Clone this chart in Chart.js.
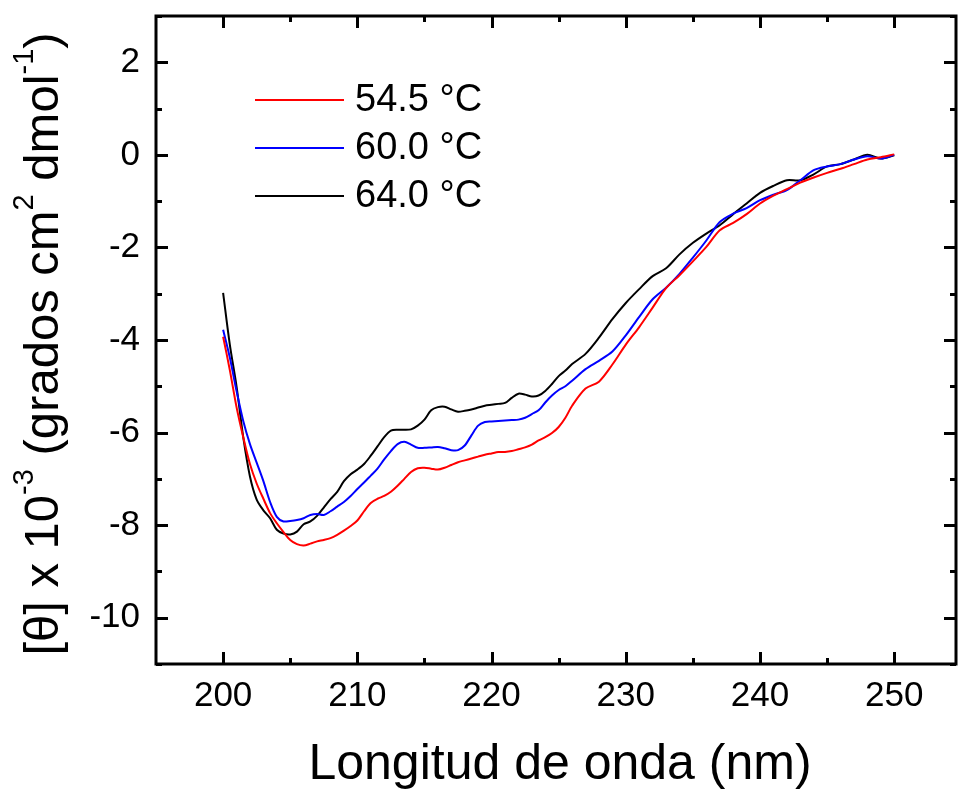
<!DOCTYPE html>
<html>
<head>
<meta charset="utf-8">
<script src="https://cdn.jsdelivr.net/npm/chart.js@4.4.1/dist/chart.umd.min.js"></script>
<style>
    html, body { margin: 0; padding: 0; background: #fff; overflow: hidden; }
    #wrap { width: 958px; height: 791px; position: relative; }
</style>
</head>
<body>
<div id="wrap"><canvas id="cdChart"></canvas></div>
<script>
// CD spectra - thermal unfolding

const wavelength = [
    200, 200.5, 201, 201.5, 202, 202.5, 203, 203.5, 204, 204.5,
    205, 205.5, 206, 206.5, 207, 207.5, 208, 208.5, 209, 209.5,
    210, 210.5, 211, 211.5, 212, 212.5, 213, 213.5, 214, 214.5,
    215, 215.5, 216, 216.5, 217, 217.5, 218, 218.5, 219, 219.5,
    220, 220.5, 221, 221.5, 222, 222.5, 223, 223.5, 224, 224.5,
    225, 225.5, 226, 227, 228, 229, 230, 231, 232, 233,
    234, 235, 236, 237, 238, 239, 240, 241, 242, 243,
    244, 245, 246, 247, 248, 249, 250
];

const temp545 = [
    -3.93, -4.65, -5.45, -6.10, -6.68, -7.10, -7.43, -7.74, -7.96, -8.15,
    -8.32, -8.41, -8.44, -8.40, -8.35, -8.32, -8.28, -8.21, -8.12, -8.02,
    -7.90, -7.70, -7.52, -7.43, -7.37, -7.28, -7.15, -7.00, -6.85, -6.77,
    -6.76, -6.78, -6.80, -6.76, -6.70, -6.64, -6.60, -6.56, -6.52, -6.48,
    -6.45, -6.42, -6.42, -6.40, -6.36, -6.32, -6.26, -6.17, -6.10, -6.01,
    -5.88, -5.68, -5.42, -5.05, -4.90, -4.53, -4.10, -3.72, -3.30, -2.88,
    -2.60, -2.30, -1.99, -1.63, -1.47, -1.28, -1.05, -0.88, -0.74, -0.60,
    -0.49, -0.39, -0.30, -0.20, -0.10, -0.05, 0.01
];

const temp600 = [
    -3.78, -4.38, -5.10, -5.75, -6.25, -6.65, -7.05, -7.50, -7.82, -7.92,
    -7.91, -7.89, -7.85, -7.78, -7.76, -7.78, -7.70, -7.60, -7.50, -7.37,
    -7.22, -7.08, -6.93, -6.78, -6.58, -6.40, -6.25, -6.20, -6.26, -6.33,
    -6.33, -6.32, -6.31, -6.34, -6.38, -6.38, -6.28, -6.06, -5.85, -5.77,
    -5.76, -5.75, -5.74, -5.73, -5.72, -5.68, -5.60, -5.52, -5.35, -5.20,
    -5.08, -5.00, -4.88, -4.63, -4.45, -4.25, -3.90, -3.50, -3.12, -2.87,
    -2.57, -2.22, -1.85, -1.45, -1.27, -1.15, -0.98, -0.86, -0.76, -0.55,
    -0.33, -0.25, -0.20, -0.10, -0.03, -0.08, 0.00
];

const temp640 = [
    -2.98, -4.10, -5.00, -6.10, -6.95, -7.45, -7.68, -7.85, -8.10, -8.18,
    -8.20, -8.14, -7.98, -7.92, -7.80, -7.62, -7.44, -7.28, -7.05, -6.90,
    -6.80, -6.68, -6.50, -6.30, -6.10, -5.96, -5.94, -5.94, -5.93, -5.85,
    -5.72, -5.52, -5.45, -5.44, -5.50, -5.55, -5.53, -5.50, -5.46, -5.42,
    -5.40, -5.38, -5.36, -5.25, -5.16, -5.18, -5.22, -5.20, -5.10, -4.95,
    -4.78, -4.66, -4.52, -4.30, -3.95, -3.55, -3.20, -2.90, -2.62, -2.45,
    -2.15, -1.90, -1.70, -1.52, -1.28, -1.05, -0.82, -0.67, -0.55, -0.55,
    -0.42, -0.25, -0.20, -0.10, 0.00, -0.08, -0.01
];

const seriesLabels = ['54.5 °C', '60.0 °C', '64.0 °C'];
const seriesColors = ['#ff0000', '#0000ff', '#000000'];

const xTickLabels = [200, 210, 220, 230, 240, 250];
const xMinorTicks = [205, 215, 225, 235, 245];
const yTickLabels = [-10, -8, -6, -4, -2, 0, 2];
const yMinorTicks = [-11, -9, -7, -5, -3, -1, 1, 3];

const fontFamily = '"Liberation Sans", Arial, sans-serif';

function toPoints(values) {
    return values.map((v, i) => ({ x: wavelength[i], y: v }));
}

// frame, inward ticks, axis titles and legend
const framePlugin = {
    id: 'frame',
    afterDraw(chart) {
        const ctx = chart.ctx;
        const area = chart.chartArea;
        const xs = chart.scales.x;
        const ys = chart.scales.y;

        ctx.save();
        ctx.strokeStyle = '#000';
        ctx.lineWidth = 3;
        ctx.strokeRect(area.left, area.top, area.right - area.left, area.bottom - area.top);

        ctx.beginPath();
        xTickLabels.concat(xMinorTicks).forEach(v => {
            const len = xTickLabels.includes(v) ? 12 : 6;
            const px = Math.round(xs.getPixelForValue(v)) + 0.5;
            ctx.moveTo(px, area.bottom); ctx.lineTo(px, area.bottom - len);
            ctx.moveTo(px, area.top); ctx.lineTo(px, area.top + len);
        });
        yTickLabels.concat(yMinorTicks).forEach(v => {
            const len = yTickLabels.includes(v) ? 12 : 6;
            const py = Math.round(ys.getPixelForValue(v)) + 0.5;
            ctx.moveTo(area.left, py); ctx.lineTo(area.left + len, py);
            ctx.moveTo(area.right, py); ctx.lineTo(area.right - len, py);
        });
        ctx.stroke();

        // x title
        ctx.fillStyle = '#000';
        ctx.font = '50px ' + fontFamily;
        ctx.textAlign = 'center';
        ctx.textBaseline = 'alphabetic';
        ctx.fillText('Longitud de onda (nm)', 560, 779);

        // y title with superscripts
        const parts = [
            ['[θ] x 10', false], ['-3', true], [' (grados cm', false],
            ['2', true], [' dmol', false], ['-1', true], [')', false]
        ];
        const mainFont = '49px ' + fontFamily;
        const supFont = '29px ' + fontFamily;
        let total = 0;
        parts.forEach(p => {
            ctx.font = p[1] ? supFont : mainFont;
            total += ctx.measureText(p[0]).width;
        });
        ctx.translate(58, 344);
        ctx.rotate(-Math.PI / 2);
        ctx.textAlign = 'left';
        let pos = -total / 2;
        parts.forEach(p => {
            ctx.font = p[1] ? supFont : mainFont;
            ctx.fillText(p[0], pos, p[1] ? -25 : 0);
            pos += ctx.measureText(p[0]).width;
        });
        ctx.restore();

        // legend
        ctx.save();
        ctx.font = '38px ' + fontFamily;
        ctx.textAlign = 'left';
        ctx.textBaseline = 'middle';
        chart.data.datasets.forEach((ds, i) => {
            const y = 100 + i * 48;
            ctx.strokeStyle = ds.borderColor;
            ctx.lineWidth = 2;
            ctx.beginPath();
            ctx.moveTo(255, y); ctx.lineTo(344, y);
            ctx.stroke();
            ctx.fillStyle = '#000';
            ctx.fillText(ds.label, 355, y + 1);
        });
        ctx.restore();
    }
};

const ctx = document.getElementById('cdChart');

new Chart(ctx, {
    type: 'line',
    data: {
        datasets: [temp545, temp600, temp640].map((vals, i) => ({
            label: seriesLabels[i],
            data: toPoints(vals),
            borderColor: seriesColors[i],
            borderWidth: 2,
            pointRadius: 0,
            fill: false,
            tension: 0.3
        }))
    },
    options: {
        responsive: true,
        maintainAspectRatio: false,
        animation: false,
        devicePixelRatio: 1,
        layout: { padding: { top: 16, right: 2, left: 0, bottom: 0 } },
        scales: {
            x: {
                type: 'linear',
                min: 195,
                max: 254.6,
                afterFit: s => { s.height = 127; s.paddingLeft = 0; s.paddingRight = 0; },
                afterBuildTicks: s => { s.ticks = xTickLabels.map(v => ({ value: v })); },
                grid: { display: false, drawTicks: false, tickLength: 0 },
                border: { display: false },
                ticks: {
                    font: { size: 35, family: fontFamily },
                    color: '#000',
                    padding: 11,
                    maxRotation: 0,
                    autoSkip: false
                }
            },
            y: {
                min: -11,
                max: 3,
                afterFit: s => { s.width = 156; s.paddingTop = 0; s.paddingBottom = 0; },
                afterBuildTicks: s => { s.ticks = yTickLabels.map(v => ({ value: v })); },
                grid: { display: false, drawTicks: false, tickLength: 0 },
                border: { display: false },
                ticks: {
                    font: { size: 35, family: fontFamily },
                    color: '#000',
                    padding: 16
                }
            }
        },
        plugins: {
            legend: { display: false },
            tooltip: { enabled: false }
        }
    },
    plugins: [framePlugin]
});
</script>
</body>
</html>
